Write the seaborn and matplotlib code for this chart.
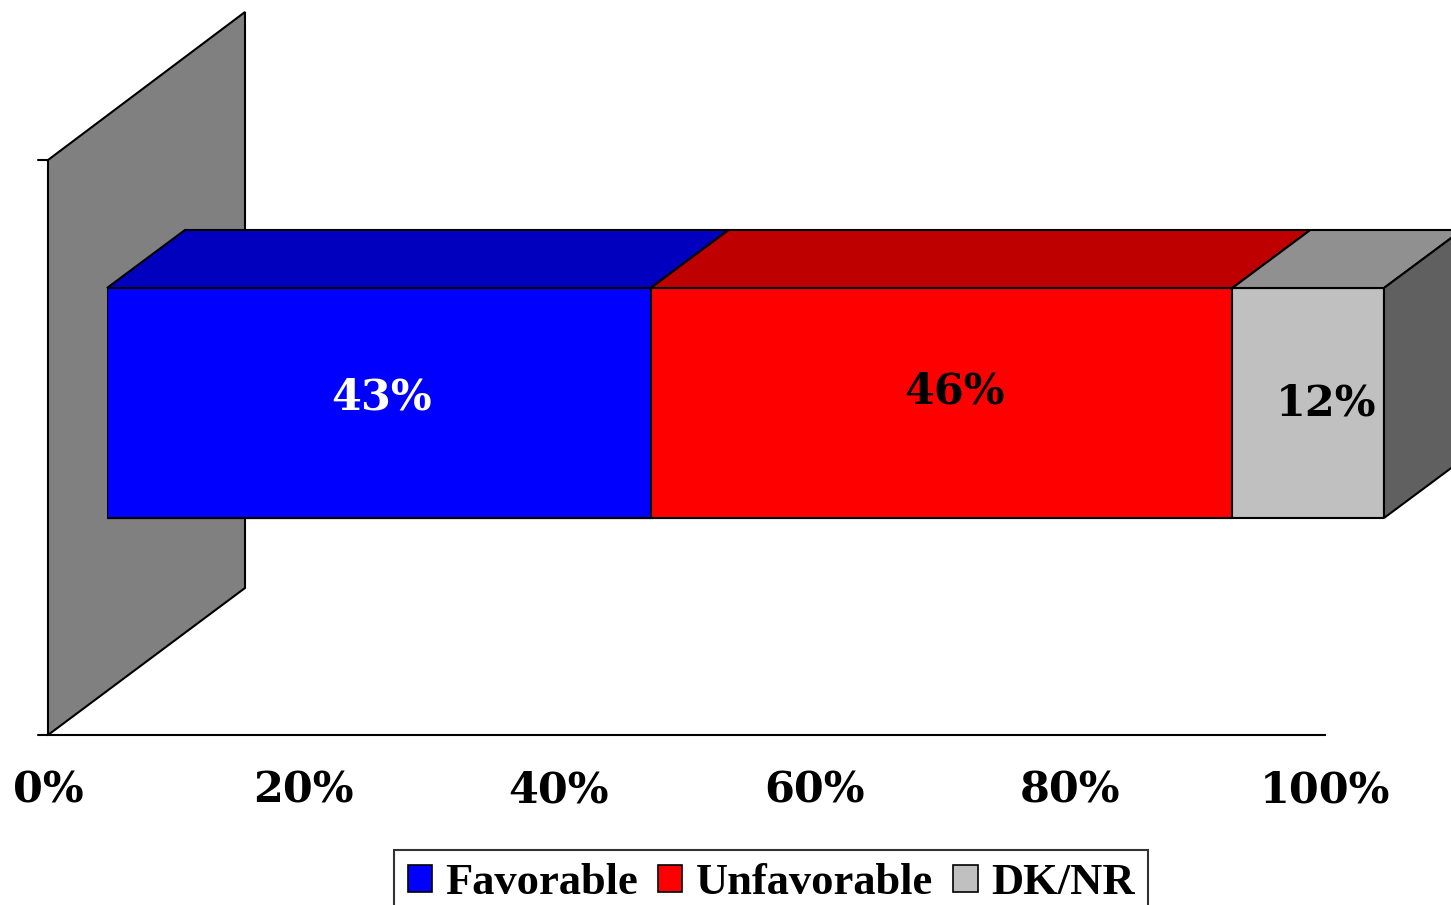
import numpy as np
import pandas as pd
import matplotlib.pyplot as plt
import seaborn as sns
from matplotlib.patches import Polygon, Patch

# ---------------------------------------------------------------------
# Data
# ---------------------------------------------------------------------
categories = ["Favorable", "Unfavorable", "DK/NR"]
values = [43, 46, 12]
label_colors = ["white", "black", "black"]
front_colors = ["#0000FF", "#FF0000", "#C0C0C0"]
top_colors = ["#0000BE", "#BE0000", "#909090"]
side_color = "#606060"
wall_color = "#808080"
tick_values = [0, 20, 40, 60, 80, 100]
tick_labels = [f"{t}%" for t in tick_values]

W, H = 1451, 905

sns.set_style("white")
plt.rcParams["font.family"] = ["DejaVu Serif", "DejaVu Sans"]
plt.rcParams["text.color"] = "black"
plt.rcParams["xtick.color"] = "black"

# 100% stacked: normalise to the total
shares = np.array(values, dtype=float) / sum(values) * 100
ends = np.cumsum(shares)
starts = ends - shares

fig = plt.figure(figsize=(W / 100, H / 100), dpi=100)

# bar axes: x 0..100 maps to the front face of the bar
bx0, bx1 = 107, 1384
ax = fig.add_axes([bx0 / W, 0, (bx1 - bx0) / W, 1])
unit_px = 287.5          # pixels per y data unit
bar_center_px = 403
LW = 1.5


def px_to_data(px, py):
    x = (px - bx0) / (bx1 - bx0) * 100
    y = (py - bar_center_px) / unit_px
    return x, y


# depth of the bar (in pixels)
ddx_px, ddy_px = 78, -58
dx = ddx_px / (bx1 - bx0) * 100
dy = ddy_px / unit_px

# back wall
wall_px = [(48, 160), (245, 12), (245, 588), (48, 735)]
wall = Polygon([px_to_data(*p) for p in wall_px], closed=True,
               facecolor=wall_color, edgecolor="black", linewidth=LW,
               zorder=0.5, clip_on=False)
ax.add_patch(wall)

# y-axis ticks on the wall front edge
for py in (160, 735):
    xa, ya = px_to_data(38, py)
    xb, _ = px_to_data(48, py)
    ax.plot([xa, xb], [ya, ya], color="black", lw=LW, clip_on=False, zorder=0.6)

# front faces: stacked by drawing cumulative ends largest first
df = pd.DataFrame({"group": ["all"] * len(categories), "end": ends,
                   "cat": categories})
for i in reversed(range(len(categories))):
    sns.barplot(data=df.iloc[[i]], x="end", y="group", orient="h",
                color=front_colors[i], saturation=1, width=0.8,
                edgecolor="black", linewidth=LW, ax=ax)

top_y = -0.4
bot_y = 0.4
# top faces
for i in range(len(categories)):
    x0, x1 = starts[i], ends[i]
    poly = Polygon([(x0, top_y), (x1, top_y), (x1 + dx, top_y + dy),
                    (x0 + dx, top_y + dy)], closed=True,
                   facecolor=top_colors[i], edgecolor="black", linewidth=LW,
                   zorder=3, clip_on=False)
    ax.add_patch(poly)

# right side face
xe = ends[-1]
side = Polygon([(xe, top_y), (xe + dx, top_y + dy), (xe + dx, bot_y + dy),
                (xe, bot_y)], closed=True, facecolor=side_color,
               edgecolor="black", linewidth=LW, zorder=3, clip_on=False)
ax.add_patch(side)

# value labels
label_dx = [0.2, 1.0, 1.4]
label_dy = [-0.02, -0.04, 0.0]
for i in range(len(categories)):
    cx = (starts[i] + ends[i]) / 2 + label_dx[i]
    ax.text(cx, label_dy[i], f"{values[i]}%", ha="center", va="center",
            fontsize=31, fontweight="bold", color=label_colors[i], zorder=5)

ax.set_xlim(0, 100)
ax.set_ylim((H - bar_center_px) / unit_px, -bar_center_px / unit_px)
ax.axis("off")

# floor axis with percentage ticks
fx0, fx1, fy = 48, 1325, 735
ax2 = fig.add_axes([fx0 / W, (H - fy) / H, (fx1 - fx0) / W, 0.0001])
ax2.set_facecolor("none")
ax2.set_xlim(0, 100)
ax2.set_xticks(tick_values)
ax2.set_xticklabels(tick_labels, fontsize=31, fontweight="bold", color="black")
ax2.set_yticks([])
for s in ("top", "left", "right"):
    ax2.spines[s].set_visible(False)
ax2.spines["bottom"].set_linewidth(LW)
ax2.spines["bottom"].set_color("black")
ax2.tick_params(axis="x", direction="out", length=5, width=LW,
                color="black", pad=20)

# legend
handles = [Patch(facecolor=c, edgecolor="black", linewidth=1.2)
           for c in front_colors]
leg = fig.legend(handles, categories, loc="upper center",
                 bbox_to_anchor=(771 / W, 1 - 850 / H), ncol=3,
                 frameon=True, fancybox=False, edgecolor="black",
                 prop={"family": "Liberation Serif", "weight": "bold",
                       "size": 32},
                 handlelength=0.55, handleheight=0.55, handletextpad=0.3,
                 columnspacing=0.45, borderpad=0.3, borderaxespad=0)
leg.get_frame().set_linewidth(LW)

fig.savefig("out.png", dpi=100)
